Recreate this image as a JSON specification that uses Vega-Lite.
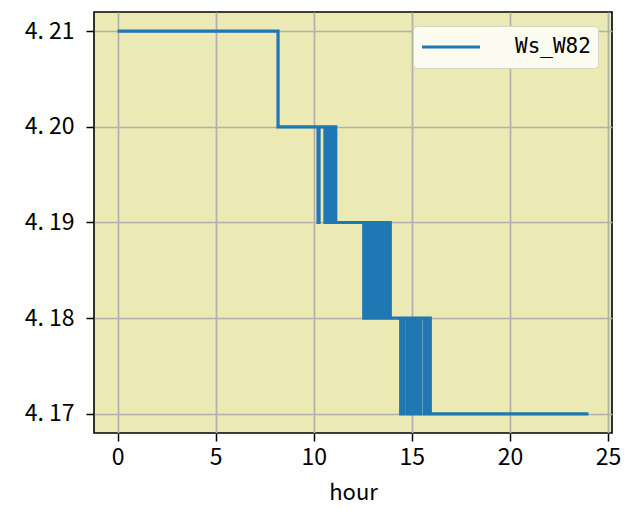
{
  "$schema": "https://vega.github.io/schema/vega-lite/v6.json",
  "autosize": {"type": "none"},
  "width": 518,
  "height": 421,
  "padding": {"left": 94, "top": 12, "right": 13, "bottom": 86},
  "background": "white",
  "config": {
    "view": {"fill": "#ebe9b4", "stroke": "black", "strokeWidth": 1.6},
    "font": "Noto Sans CJK SC",
    "axis": {
      "grid": true, "gridColor": "#b0b0b0", "gridWidth": 1.7,
      "domain": false, "tickColor": "black", "tickSize": 8, "tickWidth": 1.5,
      "labelFont": "Noto Sans CJK SC", "labelFontSize": 23, "labelColor": "black",
      "titleFont": "Noto Sans CJK SC", "titleFontSize": 22, "titleFontWeight": "normal", "titleColor": "black"
    }
  },
  "data": {"values": [
    {"hour": 0, "Ws_W82": 4.21},
    {"hour": 8.18, "Ws_W82": 4.20},
    {"hour": 10.22, "Ws_W82": 4.19},
    {"hour": 10.27, "Ws_W82": 4.20},
    {"hour": 10.57, "Ws_W82": 4.19},
    {"hour": 10.60, "Ws_W82": 4.20},
    {"hour": 10.63, "Ws_W82": 4.19},
    {"hour": 10.66, "Ws_W82": 4.20},
    {"hour": 10.69, "Ws_W82": 4.19},
    {"hour": 10.72, "Ws_W82": 4.20},
    {"hour": 10.75, "Ws_W82": 4.19},
    {"hour": 10.78, "Ws_W82": 4.20},
    {"hour": 10.81, "Ws_W82": 4.19},
    {"hour": 10.84, "Ws_W82": 4.20},
    {"hour": 10.87, "Ws_W82": 4.19},
    {"hour": 10.90, "Ws_W82": 4.20},
    {"hour": 10.93, "Ws_W82": 4.19},
    {"hour": 10.96, "Ws_W82": 4.20},
    {"hour": 10.99, "Ws_W82": 4.19},
    {"hour": 11.02, "Ws_W82": 4.20},
    {"hour": 11.05, "Ws_W82": 4.19},
    {"hour": 11.08, "Ws_W82": 4.20},
    {"hour": 11.12, "Ws_W82": 4.19},
    {"hour": 12.55, "Ws_W82": 4.18},
    {"hour": 12.59, "Ws_W82": 4.19},
    {"hour": 12.63, "Ws_W82": 4.18},
    {"hour": 12.67, "Ws_W82": 4.19},
    {"hour": 12.71, "Ws_W82": 4.18},
    {"hour": 12.75, "Ws_W82": 4.19},
    {"hour": 12.79, "Ws_W82": 4.18},
    {"hour": 12.83, "Ws_W82": 4.19},
    {"hour": 12.87, "Ws_W82": 4.18},
    {"hour": 12.91, "Ws_W82": 4.19},
    {"hour": 12.95, "Ws_W82": 4.18},
    {"hour": 12.99, "Ws_W82": 4.19},
    {"hour": 13.03, "Ws_W82": 4.18},
    {"hour": 13.07, "Ws_W82": 4.19},
    {"hour": 13.11, "Ws_W82": 4.18},
    {"hour": 13.15, "Ws_W82": 4.19},
    {"hour": 13.19, "Ws_W82": 4.18},
    {"hour": 13.23, "Ws_W82": 4.19},
    {"hour": 13.27, "Ws_W82": 4.18},
    {"hour": 13.31, "Ws_W82": 4.19},
    {"hour": 13.35, "Ws_W82": 4.18},
    {"hour": 13.39, "Ws_W82": 4.19},
    {"hour": 13.43, "Ws_W82": 4.18},
    {"hour": 13.47, "Ws_W82": 4.19},
    {"hour": 13.51, "Ws_W82": 4.18},
    {"hour": 13.55, "Ws_W82": 4.19},
    {"hour": 13.59, "Ws_W82": 4.18},
    {"hour": 13.63, "Ws_W82": 4.19},
    {"hour": 13.67, "Ws_W82": 4.18},
    {"hour": 13.71, "Ws_W82": 4.19},
    {"hour": 13.75, "Ws_W82": 4.18},
    {"hour": 13.79, "Ws_W82": 4.19},
    {"hour": 13.83, "Ws_W82": 4.18},
    {"hour": 13.87, "Ws_W82": 4.19},
    {"hour": 13.90, "Ws_W82": 4.18},
    {"hour": 14.43, "Ws_W82": 4.17},
    {"hour": 14.46, "Ws_W82": 4.18},
    {"hour": 14.55, "Ws_W82": 4.17},
    {"hour": 14.59, "Ws_W82": 4.18},
    {"hour": 14.76, "Ws_W82": 4.17},
    {"hour": 14.80, "Ws_W82": 4.18},
    {"hour": 14.84, "Ws_W82": 4.17},
    {"hour": 14.88, "Ws_W82": 4.18},
    {"hour": 14.92, "Ws_W82": 4.17},
    {"hour": 14.96, "Ws_W82": 4.18},
    {"hour": 15.00, "Ws_W82": 4.17},
    {"hour": 15.04, "Ws_W82": 4.18},
    {"hour": 15.08, "Ws_W82": 4.17},
    {"hour": 15.12, "Ws_W82": 4.18},
    {"hour": 15.16, "Ws_W82": 4.17},
    {"hour": 15.20, "Ws_W82": 4.18},
    {"hour": 15.24, "Ws_W82": 4.17},
    {"hour": 15.28, "Ws_W82": 4.18},
    {"hour": 15.32, "Ws_W82": 4.17},
    {"hour": 15.36, "Ws_W82": 4.18},
    {"hour": 15.40, "Ws_W82": 4.17},
    {"hour": 15.44, "Ws_W82": 4.18},
    {"hour": 15.62, "Ws_W82": 4.17},
    {"hour": 15.66, "Ws_W82": 4.18},
    {"hour": 15.70, "Ws_W82": 4.17},
    {"hour": 15.74, "Ws_W82": 4.18},
    {"hour": 15.78, "Ws_W82": 4.17},
    {"hour": 15.82, "Ws_W82": 4.18},
    {"hour": 15.86, "Ws_W82": 4.17},
    {"hour": 15.90, "Ws_W82": 4.18},
    {"hour": 15.94, "Ws_W82": 4.17},
    {"hour": 24.0, "Ws_W82": 4.17}
  ]},
  "mark": {"type": "line", "interpolate": "step-after", "strokeWidth": 3.2, "clip": true},
  "encoding": {
    "x": {
      "field": "hour", "type": "quantitative", "title": "hour",
      "scale": {"domain": [-1.2, 25.2], "nice": false, "zero": false},
      "axis": {"values": [0, 5, 10, 15, 20, 25], "labelPadding": 5, "titlePadding": 13}
    },
    "y": {
      "field": "Ws_W82", "type": "quantitative", "title": null,
      "scale": {"domain": [4.168, 4.212], "nice": false, "zero": false},
      "axis": {"values": [4.17, 4.18, 4.19, 4.20, 4.21], "labelPadding": 12,
               "labelExpr": "replace(format(datum.value, '.2f'), '.', '. ')"}
    },
    "color": {
      "datum": "Ws_W82",
      "scale": {"range": ["#1f77b4"]},
      "legend": {
        "title": null, "orient": "top-right", "offset": 14,
        "symbolType": "stroke", "symbolSize": 3364, "symbolStrokeWidth": 3.2,
        "clipHeight": 28,
        "labelFont": "DejaVu Sans Mono", "labelFontSize": 21, "labelColor": "black",
        "labelOffset": 33, "labelLimit": 300,
        "padding": 7, "fillColor": "#fbfbf0", "strokeColor": "#d6d6c8", "cornerRadius": 4
      }
    }
  }
}
